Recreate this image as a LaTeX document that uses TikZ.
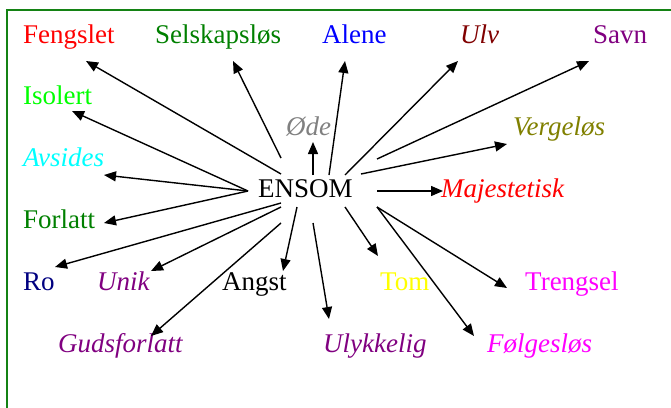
\documentclass[tikz,border=0pt]{standalone}
\usepackage{fontspec}
\setmainfont{Liberation Serif}
\usetikzlibrary{arrows.meta}
\definecolor{cRed}{RGB}{255,0,0}
\definecolor{cGreen}{RGB}{0,128,0}
\definecolor{cBlue}{RGB}{0,0,255}
\definecolor{cMaroon}{RGB}{128,0,0}
\definecolor{cPurple}{RGB}{128,0,128}
\definecolor{cLime}{RGB}{0,255,0}
\definecolor{cCyan}{RGB}{0,255,255}
\definecolor{cGray}{RGB}{128,128,128}
\definecolor{cOlive}{RGB}{128,128,0}
\definecolor{cNavy}{RGB}{0,0,128}
\definecolor{cYellow}{RGB}{255,255,0}
\definecolor{cMagenta}{RGB}{255,0,255}
\definecolor{cFrame}{RGB}{20,130,20}
\tikzset{
  word/.style={anchor=base west, inner sep=0pt, font=\fontsize{27}{30}\selectfont},
  itword/.style={word, font=\fontsize{27}{30}\selectfont\itshape},
  link/.style={line width=1.4pt, -{Triangle[length=12pt,width=10pt]}},
  frame/.style={draw=cFrame, line width=2pt}
}
\begin{document}
\begin{tikzpicture}[x=1pt,y=-1pt]
\useasboundingbox (0,0) rectangle (671,407);
\draw[frame] (6.5,410) -- (6.5,9.5) -- (675,9.5);

% words
\node[word, text=cRed] (feng) at (23,43) {Fengslet};
\node[word, text=cGreen] (selsk) at (155,43) {Selskapsløs};
\node[word, text=cBlue] (alene) at (322,43) {Alene};
\node[itword, text=cMaroon] (ulv) at (460,43) {Ulv};
\node[word, text=cPurple] (savn) at (593,43) {Savn};
\node[word, text=cLime] (isol) at (23,104) {Isolert};
\node[itword, text=cCyan] (avs) at (23,166) {Avsides};
\node[itword, text=cGray] (ode) at (286,135) {Øde};
\node[word] (ensom) at (258,197) {ENSOM};
\node[itword, text=cOlive] (verg) at (513,135) {Vergeløs};
\node[itword, text=cRed] (maj) at (441,197) {Majestetisk};
\node[word, text=cGreen] (forl) at (23,228) {Forlatt};
\node[word, text=cNavy] (ro) at (23,290) {Ro};
\node[itword, text=cPurple] (unik) at (97,290) {Unik};
\node[word] (angst) at (222,290) {Angst};
\node[word, text=cYellow] (tom) at (380,290) {Tom};
\node[word, text=cMagenta] (treng) at (525,290) {Trengsel};
\node[itword, text=cPurple] (guds) at (58,352) {Gudsforlatt};
\node[itword, text=cPurple] (ulykk) at (323,352) {Ulykkelig};
\node[itword, text=cMagenta] (folg) at (487,352) {Følgesløs};

% start points around ENSOM
\coordinate (sFeng) at (281,174);
\coordinate (sSelsk) at (281,158);
\coordinate (sOde) at (313,175);
\coordinate (sAlene) at (329,175);
\coordinate (sUlv) at (345,175);
\coordinate (sSavn) at (377,159);
\coordinate (sVerg) at (361,174);
\coordinate (sMaj) at (377,191);
\coordinate (sLeft) at (248,191);
\coordinate (sRo) at (281,203);
\coordinate (sUnik) at (281,207);
\coordinate (sGuds) at (281,223);
\coordinate (sAngst) at (297,207);
\coordinate (sUlykk) at (313,223);
\coordinate (sTom) at (345,207);
\coordinate (sRight) at (377,207);

% tips
\coordinate (tFeng) at (86,61);
\coordinate (tSelsk) at (233,61);
\coordinate (tOde) at (313,142);
\coordinate (tAlene) at (345,61);
\coordinate (tUlv) at (458,61);
\coordinate (tSavn) at (589,61);
\coordinate (tVerg) at (507,144);
\coordinate (tMaj) at (443,191);
\coordinate (tIsol) at (72,111);
\coordinate (tAvs) at (104,175);
\coordinate (tForl) at (104,223);
\coordinate (tRo) at (55,267);
\coordinate (tUnik) at (151,271);
\coordinate (tGuds) at (151,336);
\coordinate (tAngst) at (283,271);
\coordinate (tUlykk) at (329,319);
\coordinate (tTom) at (378,256);
\coordinate (tTreng) at (507,288);
\coordinate (tFolg) at (474,336);

\draw[link] (sFeng) -- (tFeng);
\draw[link] (sSelsk) -- (tSelsk);
\draw[link] (sOde) -- (tOde);
\draw[link] (sAlene) -- (tAlene);
\draw[link] (sUlv) -- (tUlv);
\draw[link] (sSavn) -- (tSavn);
\draw[link] (sVerg) -- (tVerg);
\draw[link] (sMaj) -- (tMaj);
\draw[link] (sLeft) -- (tIsol);
\draw[link] (sLeft) -- (tAvs);
\draw[link] (sLeft) -- (tForl);
\draw[link] (sRo) -- (tRo);
\draw[link] (sUnik) -- (tUnik);
\draw[link] (sGuds) -- (tGuds);
\draw[link] (sAngst) -- (tAngst);
\draw[link] (sUlykk) -- (tUlykk);
\draw[link] (sTom) -- (tTom);
\draw[link] (sRight) -- (tTreng);
\draw[link] (sRight) -- (tFolg);
\end{tikzpicture}
\end{document}
